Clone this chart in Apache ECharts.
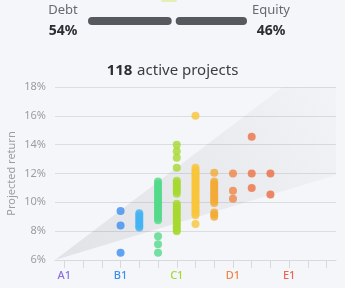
<!DOCTYPE html>
<html>
<head>
<meta charset="utf-8">
<script src="https://cdn.jsdelivr.net/npm/echarts@6/dist/echarts.min.js"></script>
<style>
html,body{margin:0;padding:0;background:#f4f6f9;}
#c{width:345px;height:288px;}
</style>
</head>
<body>
<div id="c"></div>
<script>
// ---- data ----
var categories = ['A1','A2','A3','B1','B2','B3','C1','C2','C3','D1','D2','D3','E1','E2','E3'];
var catColors = ['#8a6fe6','#7a7fea','#5a8fee','#3b8ff0','#43b3f2','#52d98a','#a6d830','#f9c43a','#f3aa36','#ef8446','#ee7043','#ec6a40','#ea6650','#e86450','#e66250'];
var valsB1 = [9.4, 8.4, 6.5];
var valsB2 = [9.25, 9.1, 8.95, 8.8, 8.65, 8.5, 8.35, 8.25];
var valsB3 = [11.45, 11.3, 11.15, 11.0, 10.85, 10.7, 10.55, 10.4, 10.25, 10.1, 9.95, 9.8, 9.65, 9.5, 9.35, 9.2, 9.05, 8.9, 8.75, 7.65, 7.1, 6.5];
var valsC1 = [14.0, 13.55, 13.1, 12.4, 11.5, 11.35, 11.2, 11.05, 10.9, 10.75, 10.6, 9.9, 9.75, 9.6, 9.45, 9.3, 9.15, 9.0, 8.85, 8.7, 8.55, 8.4, 8.25, 8.1, 8.0];
var valsC2 = [16.0, 12.4, 12.25, 12.1, 11.95, 11.8, 11.65, 11.5, 11.35, 11.2, 11.05, 10.9, 10.75, 10.6, 10.45, 10.3, 10.15, 10.0, 9.85, 9.7, 9.55, 9.4, 9.25, 9.1, 8.5];
var valsC3 = [12.05, 11.45, 11.3, 11.15, 11.0, 10.85, 10.7, 10.55, 10.4, 10.25, 10.1, 9.95, 9.3, 9.15, 9.0];
var valsD1 = [12.0, 10.8, 10.25];
var valsD2 = [14.55, 12.0, 11.0];
var valsD3 = [12.0, 10.55];
var columns = {B1: valsB1, B2: valsB2, B3: valsB3, C1: valsC1, C2: valsC2, C3: valsC3, D1: valsD1, D2: valsD2, D3: valsD3};
var yTicks = {min: 6, max: 18, step: 2};
// shaded cone (category index, percent)
var coneX = [-0.5, 11.66, 14.5, 14.5];
var coneY = [6, 18, 18, 11.9];
var debtShare = 54, equityShare = 46;
var projectCount = 118;

// ---- build ----
var scatterData = [];
categories.forEach(function (c, i) {
  (columns[c] || []).forEach(function (v) {
    scatterData.push({value: [c, v], itemStyle: {color: catColors[i]}});
  });
});

var chart = echarts.init(document.getElementById('c'));
var barL = 88, barR = 247, gap = 4;
var barW = barR - barL - gap;
var debtW = barW * debtShare / (debtShare + equityShare);

chart.setOption({
  backgroundColor: '#f4f6f9',
  animation: false,
  textStyle: {fontFamily: 'Noto Sans'},
  title: {
    text: '{b|' + projectCount + '} {n|active projects}',
    left: 'center', top: 57,
    textStyle: {fontWeight: 'normal', rich: {
      b: {fontSize: 15, fontWeight: 'bold', color: '#2a2d31', fontFamily: 'Noto Sans'},
      n: {fontSize: 15, fontWeight: 'normal', color: '#3a3d42', fontFamily: 'Noto Sans'}
    }}
  },
  graphic: [
    {type: 'text', x: 63, y: 4, style: {text: 'Debt', fill: '#666a70', font: '13px "Noto Sans"', textAlign: 'center'}},
    {type: 'text', x: 63, y: 24, style: {text: debtShare + '%', fill: '#2a2d31', font: 'bold 14px "Noto Sans"', textAlign: 'center'}},
    {type: 'text', x: 271, y: 4, style: {text: 'Equity', fill: '#666a70', font: '13px "Noto Sans"', textAlign: 'center'}},
    {type: 'text', x: 271, y: 24, style: {text: equityShare + '%', fill: '#2a2d31', font: 'bold 14px "Noto Sans"', textAlign: 'center'}},
    {type: 'rect', shape: {x: barL, y: 17, width: debtW, height: 8, r: 4}, style: {fill: '#56595e'}},
    {type: 'rect', shape: {x: barL + debtW + gap, y: 17, width: barW - debtW, height: 8, r: 4}, style: {fill: '#56595e'}},
    {type: 'rect', shape: {x: 161, y: -3, width: 16, height: 5, r: 2}, style: {fill: '#e6eeb8'}}
  ],
  grid: {left: 55, right: 9, top: 87, bottom: 28, containLabel: false, outerBoundsMode: 'none'},
  xAxis: [{
    type: 'category', data: categories, boundaryGap: true,
    axisLine: {show: true, lineStyle: {color: '#d8d9dc'}},
    axisTick: {show: true, alignWithLabel: true, interval: 0, length: 8, lineStyle: {color: '#d8d9dc'}},
    axisLabel: {interval: 2, margin: 10, fontSize: 11, fontWeight: 500, fontFamily: 'Noto Sans',
      color: function (v, i) { return catColors[categories.indexOf(v)]; }},
    splitLine: {show: false}
  }, {
    type: 'value', min: -0.5, max: 14.5, show: false
  }],
  yAxis: {
    type: 'value', min: yTicks.min, max: yTicks.max, interval: yTicks.step,
    name: 'Projected return', nameLocation: 'middle', nameGap: 38, nameMoveOverlap: false,
    nameTextStyle: {color: '#9a9da2', fontSize: 11, fontFamily: 'Noto Sans'},
    axisLine: {show: false}, axisTick: {show: false},
    axisLabel: {formatter: '{value}%', color: '#9a9da2', fontSize: 11, margin: 9},
    splitLine: {lineStyle: {color: '#dcdde0'}}
  },
  series: [{
    type: 'custom', xAxisIndex: 1, yAxisIndex: 0, silent: true, z: 1,
    data: coneX.map(function (x, i) { return [x, coneY[i]]; }),
    renderItem: function (params, api) {
      if (params.dataIndex !== 0) return null;
      var pts = coneX.map(function (x, i) { return api.coord([x, coneY[i]]); });
      return {type: 'polygon', shape: {points: pts},
        style: {fill: new echarts.graphic.LinearGradient(0, 1, 1, 0, [
          {offset: 0, color: 'rgba(20,25,40,0.085)'},
          {offset: 0.55, color: 'rgba(20,25,40,0.05)'},
          {offset: 1, color: 'rgba(20,25,40,0.01)'}
        ])}};
    }
  }, {
    type: 'scatter', xAxisIndex: 0, symbolSize: 8, z: 3,
    data: scatterData
  }]
});
</script>
</body>
</html>
